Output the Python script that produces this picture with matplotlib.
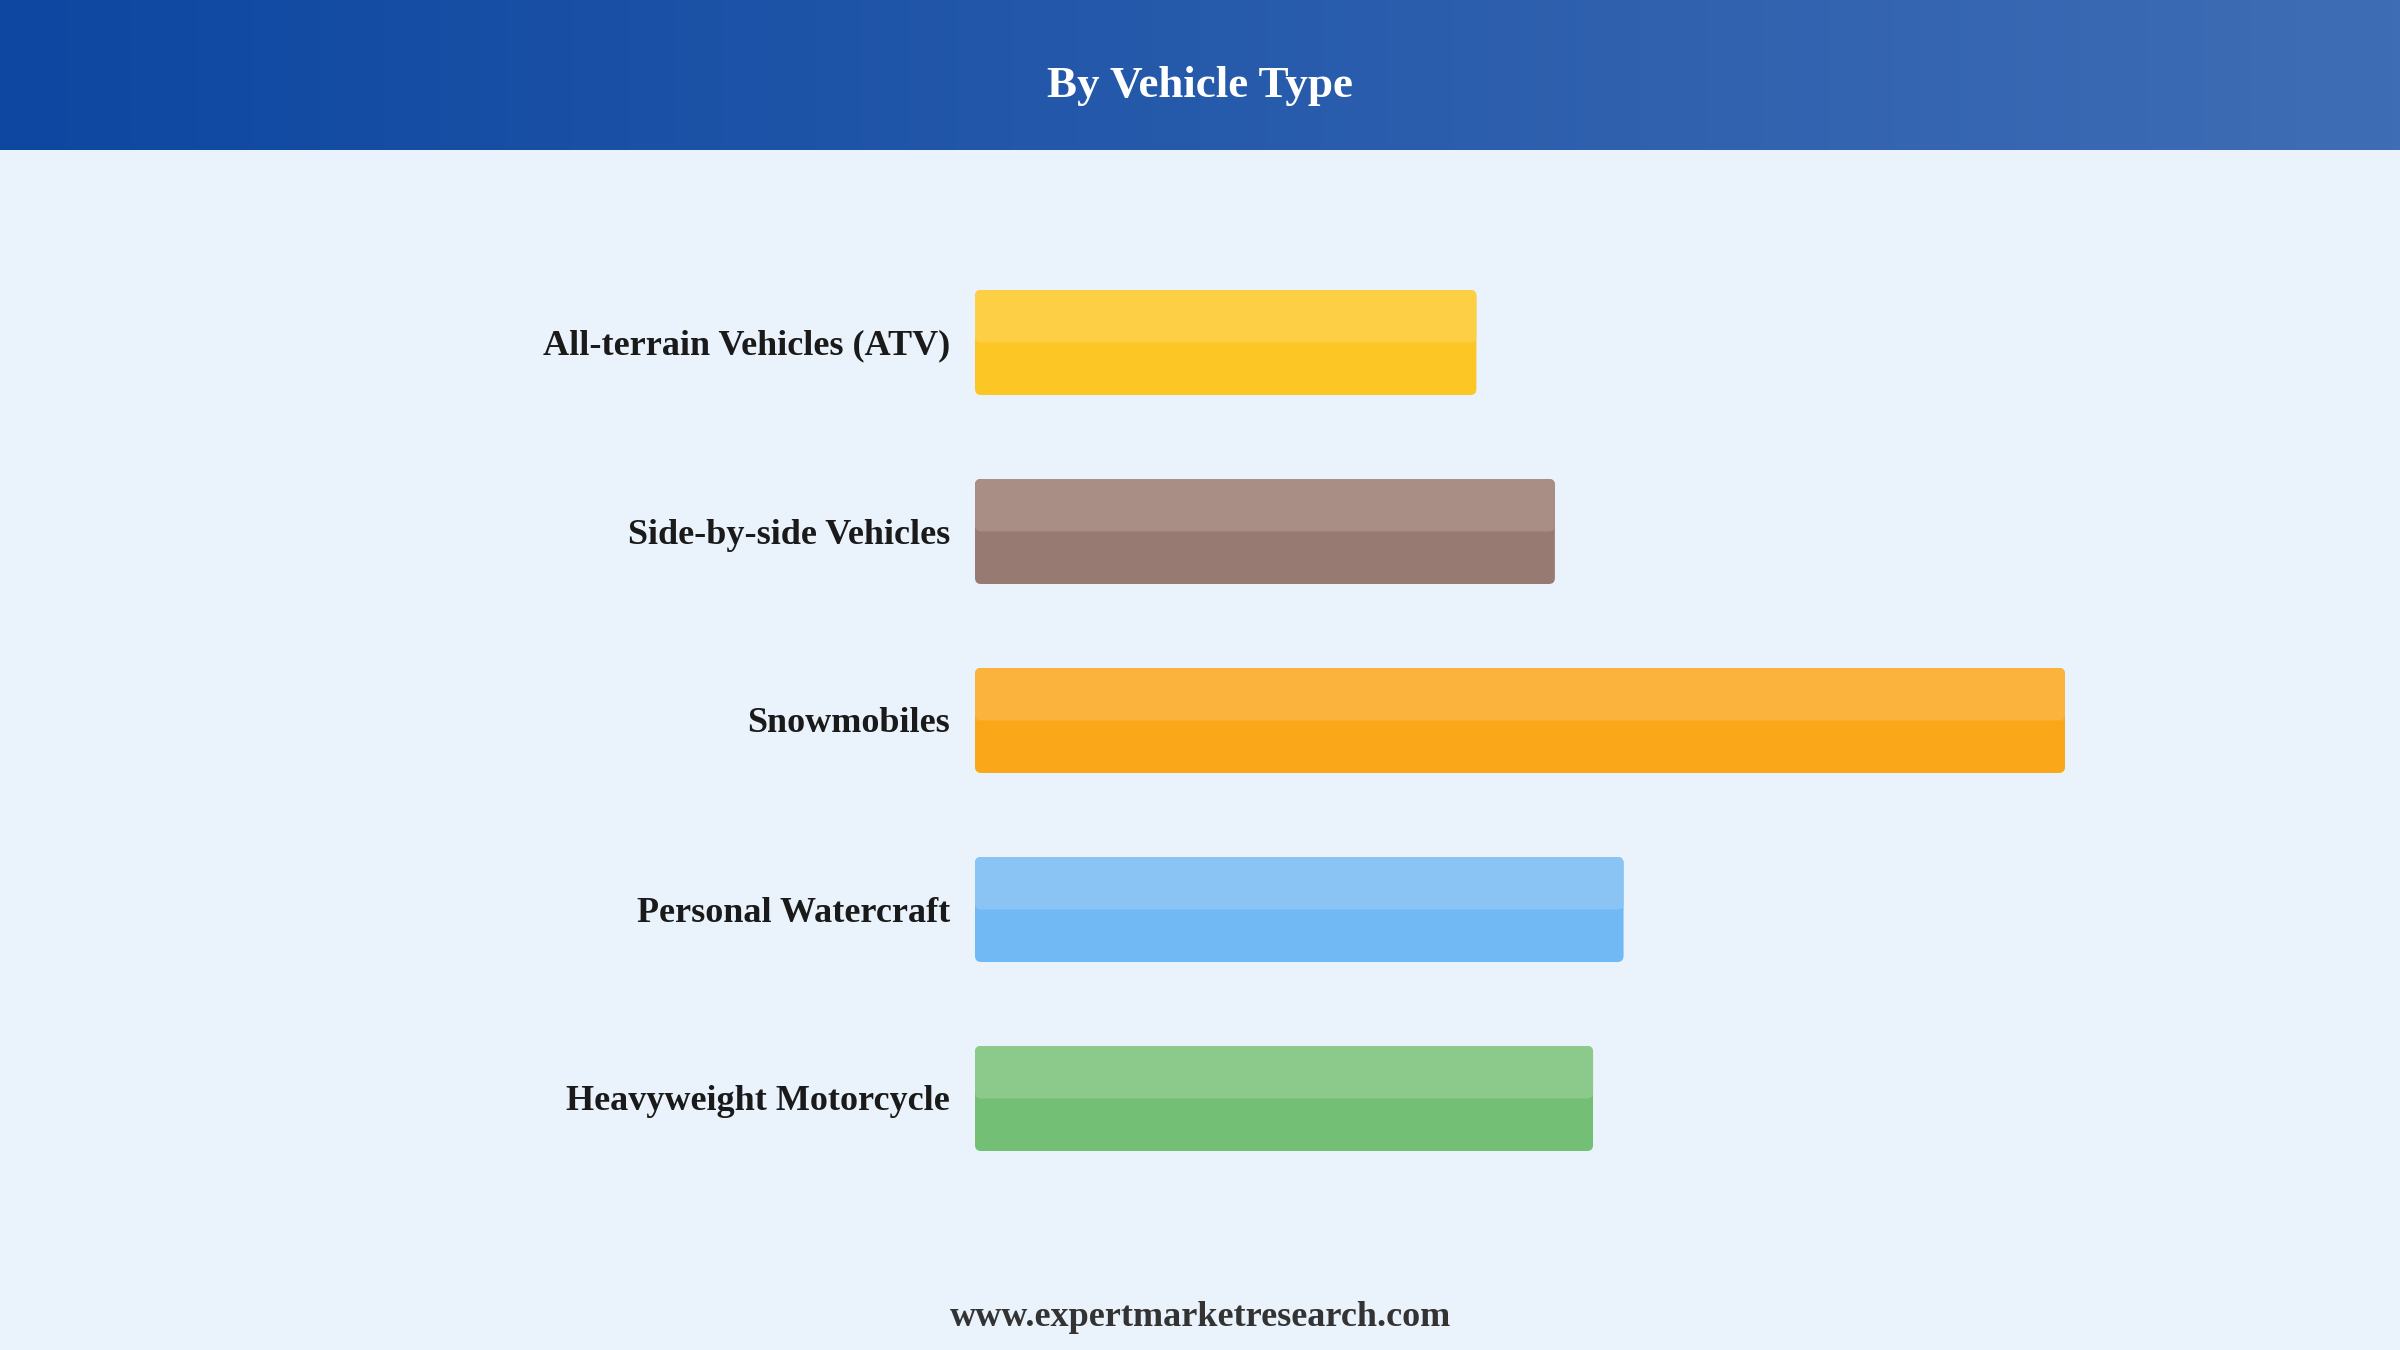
import matplotlib
matplotlib.use("Agg")
import matplotlib.pyplot as plt
import numpy as np
from matplotlib.patches import FancyBboxPatch
from matplotlib.colors import LinearSegmentedColormap

categories = ["All-terrain Vehicles (ATV)", "Side-by-side Vehicles", "Snowmobiles",
              "Personal Watercraft", "Heavyweight Motorcycle"]
values = [4.6, 5.32, 10.0, 5.95, 5.67]
colors_main = ["#FCC624", "#977A71", "#FAA81A", "#71B9F4", "#72BF75"]
colors_top = ["#FDCF45", "#A88E85", "#FBB33D", "#89C4F5", "#8BCA8A"]
title = "By Vehicle Type"
footer = "www.expertmarketresearch.com"

W, H = 2400, 1350
fig = plt.figure(figsize=(24, 13.5), dpi=100)
bg = "#EAF2FC"
fig.patch.set_facecolor(bg)

# header gradient
hdr_h = 150
hax = fig.add_axes([0, 1 - hdr_h / H, 1, hdr_h / H])
cmap = LinearSegmentedColormap.from_list("hdr", ["#0D47A1", "#3F6DB5"])
hax.imshow(np.linspace(0, 1, 256).reshape(1, -1), aspect="auto", cmap=cmap,
           extent=[0, 1, 0, 1])
hax.set_axis_off()
fig.text(0.5, 1 - 86 / H, title, ha="center", va="center", color="white",
         fontsize=32.5, fontweight="bold", family="Liberation Serif")

# main axes: x pixel scale
left_px = 975
px_per_unit_x = 109.0
xmax = 12
spacing = 189.0
top_px = 342.5 - spacing / 2
ax = fig.add_axes([left_px / W, 1 - (top_px + spacing * 5) / H,
                   xmax * px_per_unit_x / W, spacing * 5 / H])
ax.set_facecolor("none")
ax.set_xlim(0, xmax)
ax.set_ylim(4.5, -0.5)
ax.set_axis_off()

bar_h = 105 / spacing
ypos = np.arange(len(categories))
bars = ax.barh(ypos, values, height=bar_h, color="none", edgecolor="none")
aspect = px_per_unit_x / spacing
r = 6 / px_per_unit_x
for i, b in enumerate(bars):
    x0, y0, w, h = b.get_x(), b.get_y(), b.get_width(), b.get_height()
    p = FancyBboxPatch((x0, y0), w, h, boxstyle=f"round,pad=0,rounding_size={r}",
                       mutation_aspect=aspect, facecolor=colors_main[i],
                       edgecolor="none", zorder=2)
    ax.add_patch(p)
    p2 = FancyBboxPatch((x0, y0), w, h / 2, boxstyle=f"round,pad=0,rounding_size={r}",
                        mutation_aspect=aspect, facecolor=colors_top[i],
                        edgecolor="none", zorder=3)
    ax.add_patch(p2)
    ax.text(-25 / px_per_unit_x, ypos[i] + 3.5 / spacing, categories[i], ha="right",
            va="center", fontsize=26, fontweight="bold", family="Liberation Serif",
            color="#1a1a1a")

fig.text(0.5, 1 - 1318 / H, footer, ha="center", va="center", color="#333333",
         fontsize=26, fontweight="bold", family="Liberation Serif")

fig.savefig("out.png", dpi=100, facecolor=bg)
